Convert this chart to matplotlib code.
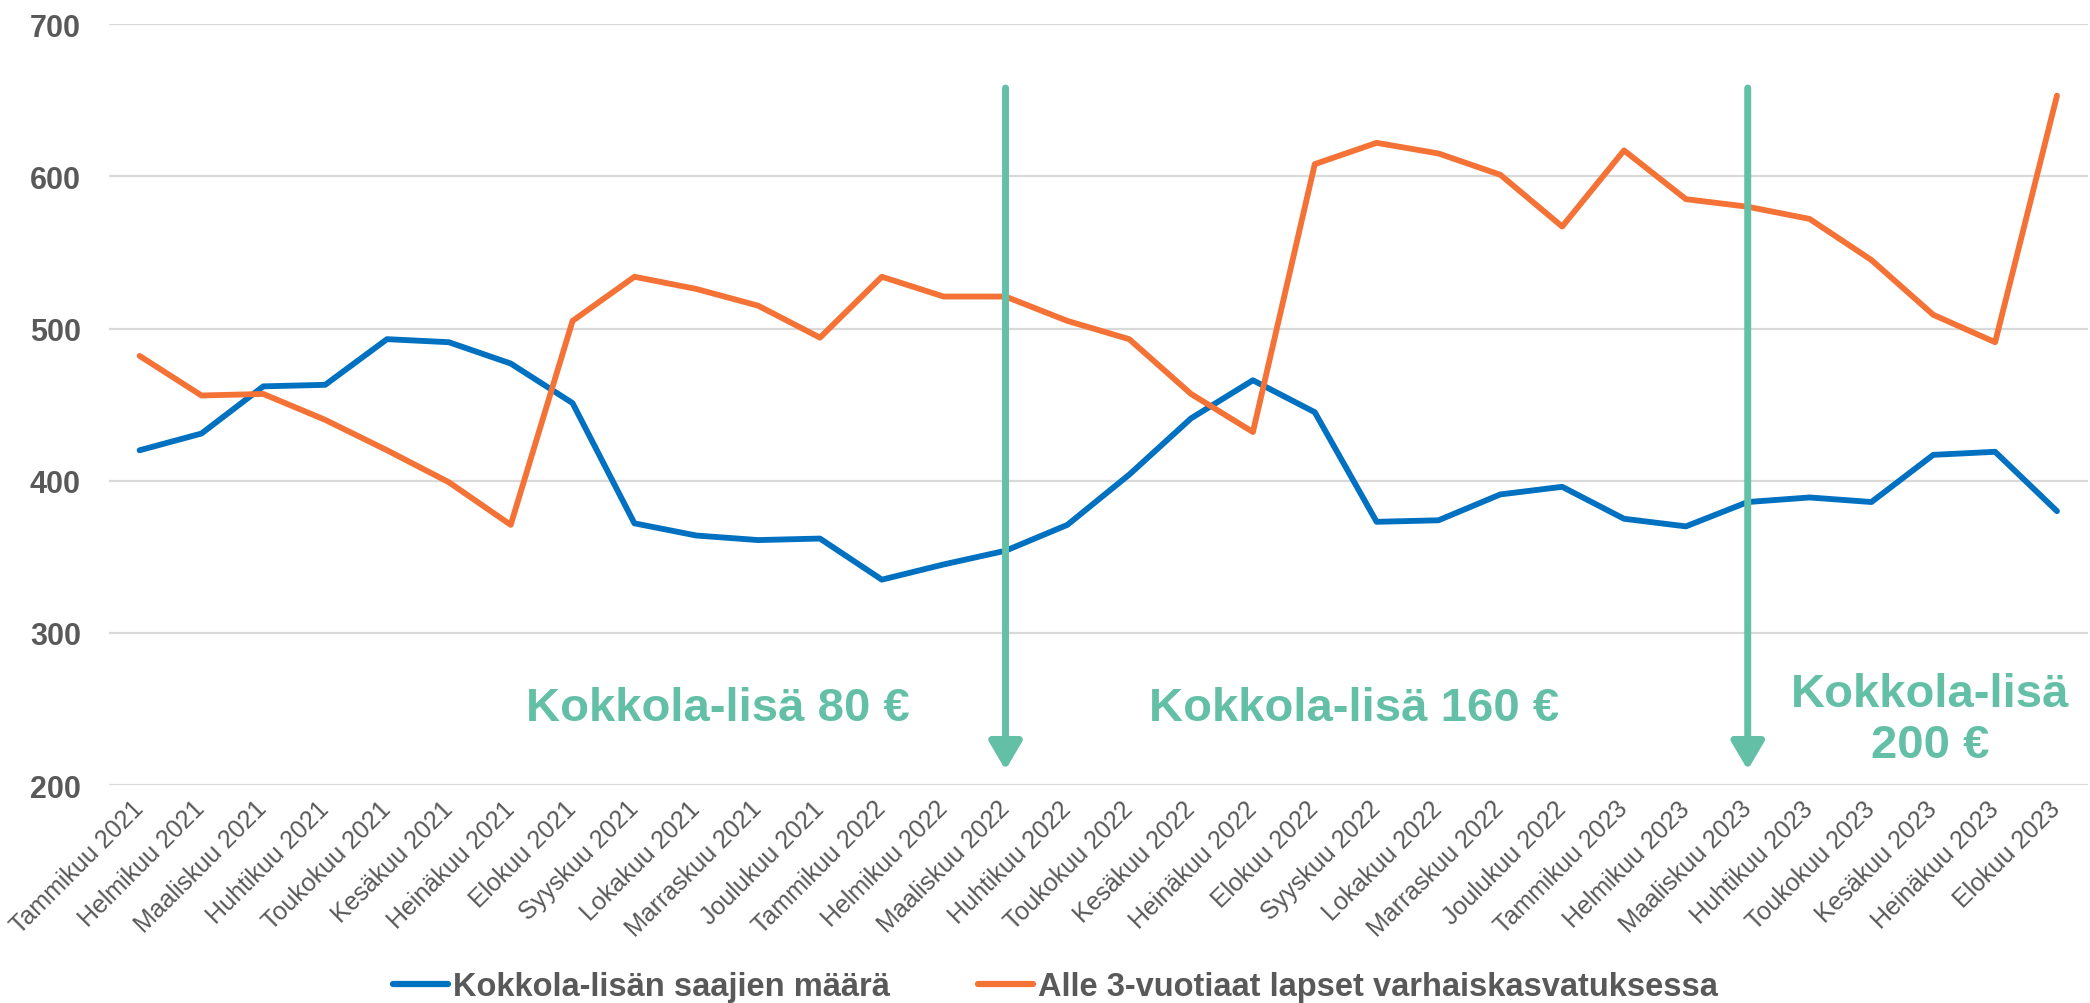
import matplotlib
matplotlib.use("Agg")
import matplotlib.pyplot as plt

# Data
months = ["Tammikuu", "Helmikuu", "Maaliskuu", "Huhtikuu", "Toukokuu", "Kesäkuu",
          "Heinäkuu", "Elokuu", "Syyskuu", "Lokakuu", "Marraskuu", "Joulukuu"]
labels = ([m + " 2021" for m in months] + [m + " 2022" for m in months]
          + [m + " 2023" for m in months[:8]])

saajat = [420, 431, 462, 463, 493, 491, 477, 451, 372, 364, 361, 362,
          335, 345, 354, 371, 404, 441, 466, 445, 373, 374, 391, 396,
          375, 370, 386, 389, 386, 417, 419, 380]
alle3 = [482, 456, 457, 440, 420, 399, 371, 505, 534, 526, 515, 494,
         534, 521, 521, 505, 493, 457, 432, 608, 622, 615, 601, 567,
         617, 585, 580, 572, 545, 509, 491, 653]

series_names = ["Kokkola-lisän saajien määrä", "Alle 3-vuotiaat lapset varhaiskasvatuksessa"]
change_months = ["Maaliskuu 2022", "Maaliskuu 2023"]
notes = ["Kokkola-lisä 80 €", "Kokkola-lisä 160 €", "Kokkola-lisä\n200 €"]

plt.rcParams["font.family"] = ["Liberation Sans", "DejaVu Sans"]

BLUE = "#0070C0"
ORANGE = "#F47236"
GREEN = "#63C0A6"
GREY = "#595959"

fig = plt.figure(figsize=(20.9, 10.04), dpi=100)
ax = fig.add_axes([0.052, 0.217, 0.947, 0.758])

x = list(range(len(labels)))
ax.plot(x, saajat, color=BLUE, lw=4.2, solid_joinstyle="round",
        solid_capstyle="round", label=series_names[0], zorder=3)
ax.plot(x, alle3, color=ORANGE, lw=4.2, solid_joinstyle="round",
        solid_capstyle="round", label=series_names[1], zorder=3)

# green arrows marking the change months
for m in change_months:
    i = labels.index(m)
    ax.annotate("", xy=(i, 210), xytext=(i, 658),
                arrowprops=dict(arrowstyle="-|>,head_length=0.85,head_width=0.5",
                                lw=5, color=GREEN, shrinkA=0, shrinkB=0,
                                mutation_scale=20, capstyle="round"),
                zorder=4)

ax.text(9.35, 251, notes[0], color=GREEN, fontsize=34, fontweight="bold",
        ha="center", va="center")
ax.text(19.64, 251, notes[1], color=GREEN, fontsize=34, fontweight="bold",
        ha="center", va="center")
ax.text(28.95, 243, notes[2], color=GREEN, fontsize=34, fontweight="bold",
        ha="center", va="center", linespacing=1.2)

ax.set_xlim(-0.5, len(labels) - 0.5)
ax.set_ylim(200, 700)
ax.set_yticks([200, 300, 400, 500, 600, 700])
ax.set_xticks(x)
ax.set_xticklabels(labels, rotation=45, ha="right", va="center",
                   rotation_mode="anchor", fontsize=18, color=GREY)
for t in ax.get_yticklabels():
    t.set_fontweight("bold")
ax.tick_params(axis="y", length=0, pad=20, labelsize=22, labelcolor=GREY)
ax.tick_params(axis="x", length=0, pad=14)

ax.grid(axis="y", color="#D9D9D9", lw=1.6)
ax.set_axisbelow(True)
for s in ax.spines.values():
    s.set_visible(False)

leg = fig.legend(loc="center", bbox_to_anchor=(0.505, 0.016), ncol=2, frameon=False,
                 prop={"size": 23.5, "weight": "bold"}, handlelength=1.7,
                 handletextpad=0.15, columnspacing=2.7)
for t in leg.get_texts():
    t.set_color(GREY)
for h in leg.get_lines():
    h.set_linewidth(4.5)

fig.savefig("out.png", dpi=100)
